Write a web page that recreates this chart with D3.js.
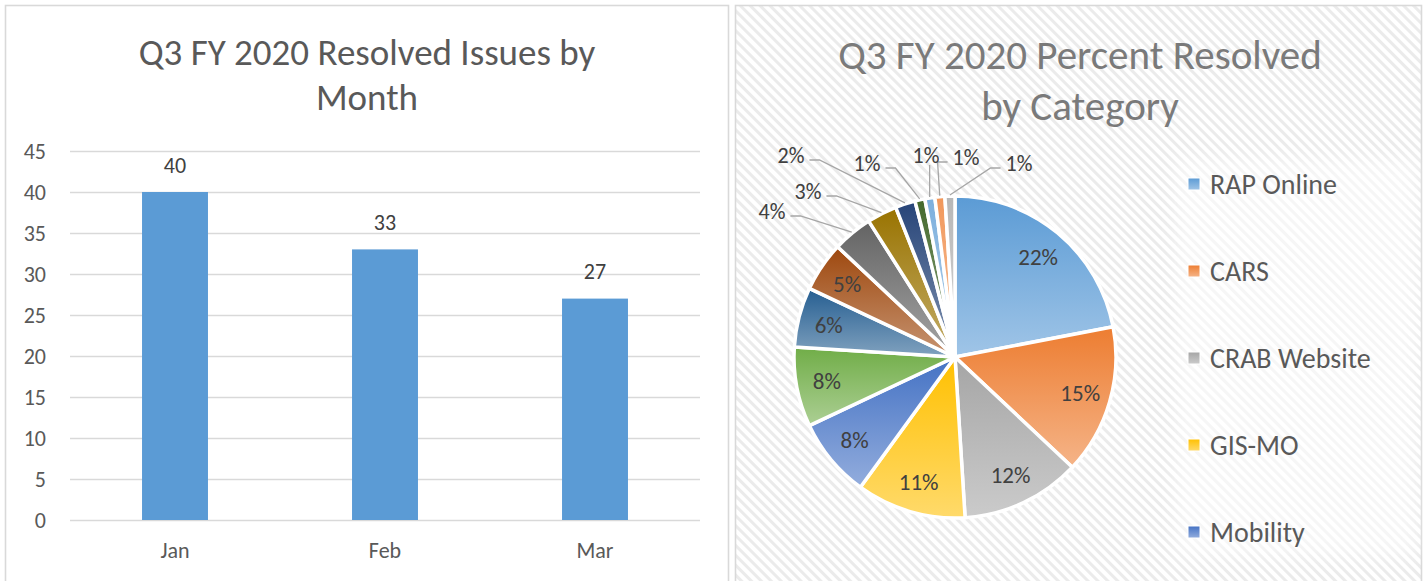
<!DOCTYPE html>
<html>
<head>
<meta charset="utf-8">
<script src="https://cdn.jsdelivr.net/npm/d3@7"></script>
<style>
  html, body { margin: 0; padding: 0; background: #ffffff; }
  svg { display: block; font-family: Carlito, Calibri, Lato, sans-serif; }
</style>
</head>
<body>
<svg id="chart" width="1428" height="581"></svg>
<script>
// ---- Data ----
const months = ["Jan", "Feb", "Mar"];
const resolvedCounts = [40, 33, 27];
const countTicks = [0, 5, 10, 15, 20, 25, 30, 35, 40, 45];

const legendNames = ["RAP Online", "CARS", "CRAB Website", "GIS-MO", "Mobility"];
const sharePercent = [22, 15, 12, 11, 8, 8, 6, 5, 4, 3, 2, 1, 1, 1, 1];

// ---- Styling ----
const sliceColors = [
  "#5B9BD5", "#ED7D31", "#A5A5A5", "#FFC000", "#4472C4", "#70AD47",
  "#255E91", "#9E480E", "#636363", "#997300", "#264478", "#43682B",
  "#7CAFDD", "#F1975A", "#B7B7B7"
];
const textDark = "#404040";
const textMid = "#595959";
const gridColor = "#d9d9d9";
const fontStack = "Carlito, Calibri, Lato, sans-serif";

const svg = d3.select("#chart");
const defs = svg.append("defs");

// diagonal hatch used as the pie panel background
const hatch = defs.append("pattern")
  .attr("id", "hatch")
  .attr("patternUnits", "userSpaceOnUse")
  .attr("width", 7).attr("height", 7)
  .attr("patternTransform", "rotate(-45)");
hatch.append("rect").attr("width", 7).attr("height", 7).attr("fill", "#ffffff");
hatch.append("rect").attr("width", 3).attr("height", 7).attr("fill", "#ebebeb");

const soft = defs.append("filter").attr("id", "soft")
  .attr("x", "-20%").attr("y", "-20%").attr("width", "140%").attr("height", "140%");
soft.append("feGaussianBlur").attr("stdDeviation", 8);

// vertical gradient per slice colour: base at top, lighter tint at bottom
sliceColors.forEach((c, i) => {
  const g = defs.append("linearGradient")
    .attr("id", "grad" + i)
    .attr("x1", 0).attr("y1", 0).attr("x2", 0).attr("y2", 1);
  g.append("stop").attr("offset", "0%").attr("stop-color", c);
  g.append("stop").attr("offset", "100%").attr("stop-color", d3.interpolateRgb(c, "#ffffff")(0.42));
});

// ================= Left panel: column chart =================
svg.append("rect")
  .attr("x", 5.5).attr("y", 5.5).attr("width", 723).attr("height", 600)
  .attr("fill", "#ffffff").attr("stroke", gridColor).attr("stroke-width", 1.6);

const barTitle = svg.append("text")
  .attr("text-anchor", "middle")
  .attr("fill", textMid).attr("font-size", 37);
barTitle.append("tspan").attr("x", 367).attr("y", 65).text("Q3 FY 2020 Resolved Issues by");
barTitle.append("tspan").attr("x", 367).attr("y", 110).text("Month");

const x = d3.scaleBand().domain(months).range([70, 700]);
const y = d3.scaleLinear().domain([0, 45]).range([520, 151]);
const barWidth = x.bandwidth() * 0.314;

const yAxis = svg.append("g")
  .attr("transform", "translate(70,0)")
  .call(d3.axisLeft(y).tickValues(countTicks).tickSize(-630).tickPadding(24));
yAxis.select(".domain").remove();
yAxis.selectAll(".tick line").attr("stroke", gridColor).attr("stroke-width", 1.3);
yAxis.selectAll(".tick text")
  .attr("fill", textMid).attr("font-size", 22)
  .attr("font-family", fontStack);

const xAxis = svg.append("g")
  .attr("transform", "translate(0,520)")
  .call(d3.axisBottom(x).tickSize(0).tickPadding(22));
xAxis.select(".domain").remove();
xAxis.selectAll(".tick text")
  .attr("fill", textMid).attr("font-size", 22)
  .attr("font-family", fontStack);

svg.append("g").selectAll("rect")
  .data(resolvedCounts)
  .join("rect")
  .attr("x", (d, i) => x(months[i]) + (x.bandwidth() - barWidth) / 2)
  .attr("y", d => y(d))
  .attr("width", barWidth)
  .attr("height", d => y(0) - y(d))
  .attr("fill", "#5B9BD5");

svg.append("g").selectAll("text")
  .data(resolvedCounts)
  .join("text")
  .attr("x", (d, i) => x(months[i]) + x.bandwidth() / 2)
  .attr("y", d => y(d) - 27)
  .attr("dy", "0.35em")
  .attr("text-anchor", "middle")
  .attr("fill", textDark).attr("font-size", 22)
  .text(d => d);

// ================= Right panel: pie chart =================
svg.append("rect")
  .attr("x", 735.5).attr("y", 5.5).attr("width", 686).attr("height", 600)
  .attr("fill", "url(#hatch)").attr("stroke", gridColor).attr("stroke-width", 1.6);

const pieTitle = svg.append("text")
  .attr("text-anchor", "middle")
  .attr("fill", "#7a7a7a").attr("font-size", 41);
pieTitle.append("tspan").attr("x", 1080).attr("y", 69).text("Q3 FY 2020 Percent Resolved");
pieTitle.append("tspan").attr("x", 1080).attr("y", 120).text("by Category");

// soft light area behind the legend
svg.append("rect")
  .attr("x", 1176).attr("y", 160).attr("width", 240).attr("height", 396)
  .attr("fill", "#ffffff").attr("opacity", 0.55).attr("filter", "url(#soft)");

const cx = 955, cy = 357, radius = 161;
const pie = d3.pie().sort(null).value(d => d);
const arcs = pie(sharePercent);
const arc = d3.arc().innerRadius(0).outerRadius(radius);

const pieG = svg.append("g").attr("transform", `translate(${cx},${cy})`);
pieG.selectAll("path")
  .data(arcs)
  .join("path")
  .attr("d", arc)
  .attr("fill", (d, i) => `url(#grad${i})`)
  .attr("stroke", "#ffffff")
  .attr("stroke-width", 3.5)
  .attr("stroke-linejoin", "round");

// labels inside the larger slices
const insideCount = 8;
const labelArc = d3.arc().innerRadius(radius * 0.81).outerRadius(radius * 0.81);
pieG.selectAll("text.inside")
  .data(arcs.slice(0, insideCount))
  .join("text")
  .attr("class", "inside")
  .attr("transform", d => `translate(${labelArc.centroid(d)})`)
  .attr("dy", "0.35em")
  .attr("text-anchor", "middle")
  .attr("fill", textDark).attr("font-size", 23)
  .text(d => d.data + "%");

// callout labels for the thin slices (label centre relative to the pie centre)
const calloutAnchors = [
  [-183, -146], [-147, -166], [-164, -202], [-88, -194],
  [-29, -202], [11, -200], [64, -194]
];
const edgeArc = d3.arc().innerRadius(radius + 1).outerRadius(radius + 1);
arcs.slice(insideCount).forEach((d, k) => {
  const [lx, ly] = calloutAnchors[k];
  const [ex, ey] = edgeArc.centroid(d);
  const t = pieG.append("text")
    .attr("x", lx).attr("y", ly)
    .attr("dy", "0.35em")
    .attr("text-anchor", "middle")
    .attr("fill", textDark).attr("font-size", 22)
    .text(d.data + "%");
  const half = t.node().getComputedTextLength() / 2;
  let pts;
  if (ex > lx - half && ex < lx + half) {
    pts = [[ex, ly + 10], [ex, ey]];
  } else if (ex >= lx + half) {
    const sx = lx + half + 5, sy = ly + 5;
    pts = [[sx, sy], [sx + 10, sy], [ex, ey]];
  } else {
    const sx = lx - half - 5, sy = ly + 5;
    pts = [[sx, sy], [sx - 10, sy], [ex, ey]];
  }
  pieG.insert("path", "text")
    .attr("d", d3.line()(pts))
    .attr("fill", "none")
    .attr("stroke", "#a6a6a6")
    .attr("stroke-width", 1.3);
});

// legend (first five categories)
const legendG = svg.append("g");
const legendY = d3.scalePoint().domain(legendNames).range([184, 532]);
const items = legendG.selectAll("g")
  .data(legendNames)
  .join("g")
  .attr("transform", d => `translate(1188,${legendY(d)})`);
items.append("rect")
  .attr("x", 0).attr("y", -6).attr("width", 12).attr("height", 12)
  .attr("fill", (d, i) => `url(#grad${i})`)
  .attr("stroke", "#ffffff").attr("stroke-width", 1);
items.append("text")
  .attr("x", 22).attr("dy", "0.35em")
  .attr("fill", textMid).attr("font-size", 28)
  .text(d => d);
</script>
</body>
</html>
